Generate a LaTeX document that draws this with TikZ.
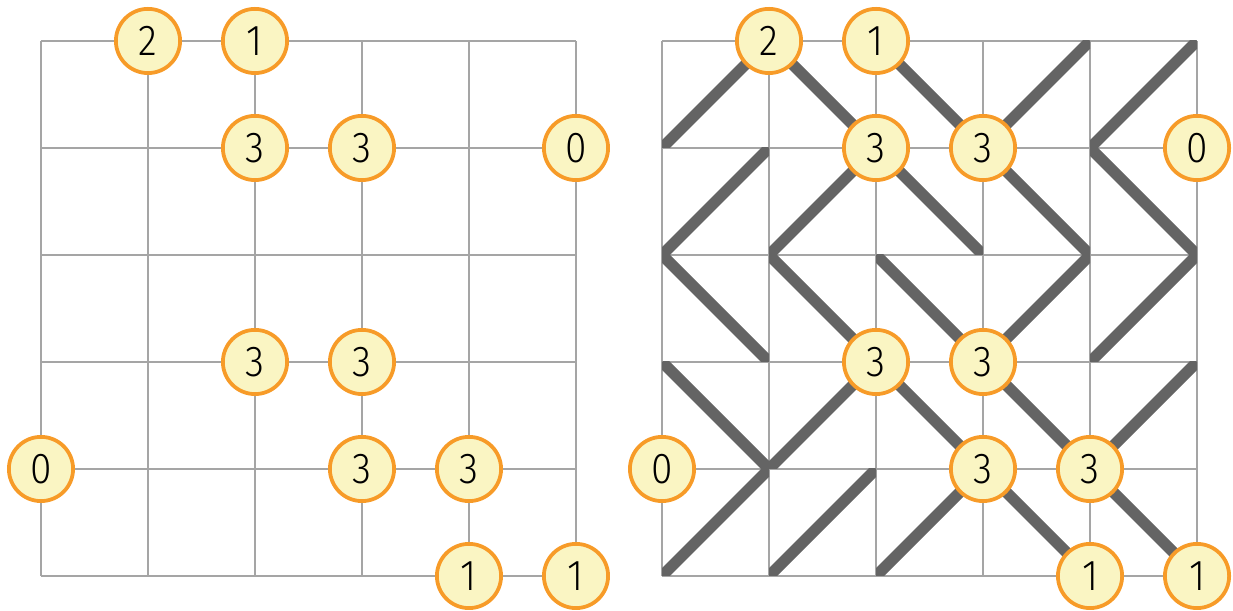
\documentclass[tikz,border=0pt]{standalone}
\usepackage{fontspec}
\setmainfont{Liberation Sans}
\newfontfamily\cluefont[FakeStretch=0.9]{Fira Sans Light}
\usepackage{tikz}
\usetikzlibrary{positioning}
\definecolor{cluefill}{RGB}{250,245,195}
\definecolor{clueedge}{RGB}{247,155,40}
\definecolor{gridgray}{RGB}{165,165,165}
\definecolor{slashgray}{RGB}{100,100,100}

\tikzset{
  clue/.style={circle, draw=clueedge, fill=cluefill, line width=1pt,
    minimum size=0.6cm, inner sep=0pt, font=\cluefont\fontsize{11.5}{12}\selectfont},
  gridline/.style={gridgray, line width=0.6pt},
  slash/.style={slashgray, line width=3pt}
}

\newcommand{\drawclues}{%
    \node[clue] (c10) at (1,0) {2};
    \node[clue] (c20) at (2,0) {1};
    \node[clue] (c21) at (2,1) {3};
    \node[clue] (c31) at (3,1) {3};
    \node[clue] (c51) at (5,1) {0};
    \node[clue] (c23) at (2,3) {3};
    \node[clue] (c33) at (3,3) {3};
    \node[clue] (c04) at (0,4) {0};
    \node[clue] (c34) at (3,4) {3};
    \node[clue] (c44) at (4,4) {3};
    \node[clue] (c45) at (4,5) {1};
    \node[clue] (c55) at (5,5) {1};
}

\begin{document}
\begin{tikzpicture}[x=1cm, y=-1cm]
\useasboundingbox (-0.383,-0.383) rectangle (11.140,5.318);
\begin{scope}[shift={(0,0)}, name prefix=L-]
    \draw[gridline] (0,0) grid (5,5);
    \drawclues
\end{scope}
\begin{scope}[shift={(5.804,0)}, name prefix=R-]
    \draw[gridline] (0,0) grid (5,5);
    \foreach \c/\r in {0/0, 3/0, 4/0, 0/1, 1/1, 3/2, 4/2, 1/3, 4/3, 0/4, 1/4, 2/4} {
        \begin{scope}
            \clip (\c,\r) rectangle (\c+1,\r+1);
            \draw[slash] (\c,\r+1) -- (\c+1,\r);
        \end{scope}
    }
    \foreach \c/\r in {1/0, 2/0, 2/1, 3/1, 4/1, 0/2, 1/2, 2/2, 0/3, 2/3, 3/3, 3/4, 4/4} {
        \begin{scope}
            \clip (\c,\r) rectangle (\c+1,\r+1);
            \draw[slash] (\c,\r) -- (\c+1,\r+1);
        \end{scope}
    }
    \drawclues
\end{scope}
\end{tikzpicture}
\end{document}
